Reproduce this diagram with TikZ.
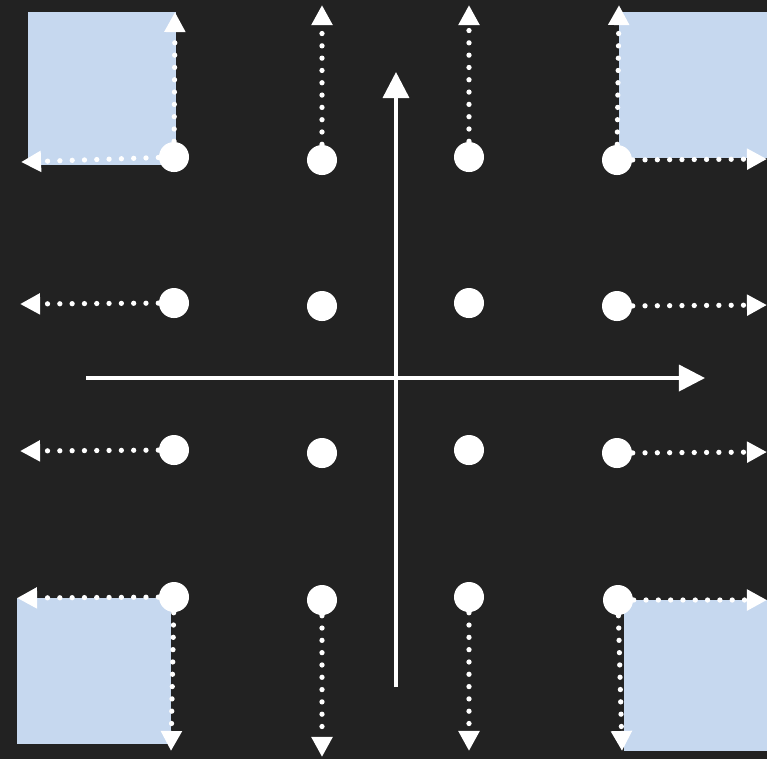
\documentclass[tikz,border=0pt]{standalone}
\usetikzlibrary{arrows.meta}
\definecolor{board}{RGB}{34,34,34}
\definecolor{paleblue}{RGB}{198,216,239}
\tikzset{
  dot/.style={circle, fill=white, inner sep=0pt, minimum size=0.3cm},
  flow/.style={white, line width=1.5pt, line cap=round, dash pattern=on 0pt off 3.5pt,
    -{Triangle[length=5.7pt,width=5.7pt]}},
  axis/.style={white, line width=1pt, -{Triangle[length=7.4pt,width=7.4pt]}}
}
\begin{document}
\begin{tikzpicture}[x=0.01cm, y=-0.01cm]
  % board
  \fill[board] (0,0) rectangle (767,759);
  \useasboundingbox (0,0) rectangle (767,759);
  % corner squares
  \fill[paleblue] (28,12) rectangle (176,165);
  \fill[paleblue] (619,12) rectangle (767,158);
  \fill[paleblue] (17,598) rectangle (171,744);
  \fill[paleblue] (624,600) rectangle (767,751);
  % axes
  \coordinate (xl) at (86,378);
  \coordinate (xr) at (705,378);
  \coordinate (yb) at (396,687);
  \coordinate (yt) at (396,72);
  \draw[axis] (xl) -- (xr);
  \draw[axis] (yb) -- (yt);
  % dots, row by row
  \node[dot] (a1) at (174,157) {};
  \node[dot] (a2) at (322,160) {};
  \node[dot] (a3) at (469,157) {};
  \node[dot] (a4) at (617,160) {};
  \node[dot] (b1) at (174,303) {};
  \node[dot] (b2) at (322,306) {};
  \node[dot] (b3) at (469,303) {};
  \node[dot] (b4) at (617,306) {};
  \node[dot] (c1) at (174,450) {};
  \node[dot] (c2) at (322,453) {};
  \node[dot] (c3) at (469,450) {};
  \node[dot] (c4) at (617,453) {};
  \node[dot] (d1) at (174,597) {};
  \node[dot] (d2) at (322,600) {};
  \node[dot] (d3) at (469,597) {};
  \node[dot] (d4) at (618,600) {};
  % free ends of the dotted arrows
  \coordinate (a1n) at (175,12);
  \coordinate (a1w) at (21,162);
  \coordinate (a2n) at (322,5);
  \coordinate (a3n) at (469,5);
  \coordinate (a4n) at (619,5);
  \coordinate (a4e) at (767,159);
  \coordinate (b1w) at (20,304);
  \coordinate (b4e) at (767,305);
  \coordinate (c1w) at (20,451);
  \coordinate (c4e) at (767,452);
  \coordinate (d1w) at (17,598);
  \coordinate (d1s) at (171,751);
  \coordinate (d2s) at (322,757);
  \coordinate (d3s) at (469,751);
  \coordinate (d4e) at (767,600);
  \coordinate (d4s) at (622,751);
  % dotted arrows
  \draw[flow] (a1) -- (a1n);
  \draw[flow] (a1) -- (a1w);
  \draw[flow] (a2) -- (a2n);
  \draw[flow] (a3) -- (a3n);
  \draw[flow] (a4) -- (a4n);
  \draw[flow] (a4) -- (a4e);
  \draw[flow] (b1) -- (b1w);
  \draw[flow] (b4) -- (b4e);
  \draw[flow] (c1) -- (c1w);
  \draw[flow] (c4) -- (c4e);
  \draw[flow] (d1) -- (d1w);
  \draw[flow] (d1) -- (d1s);
  \draw[flow] (d2) -- (d2s);
  \draw[flow] (d3) -- (d3s);
  \draw[flow] (d4) -- (d4e);
  \draw[flow] (d4) -- (d4s);
\end{tikzpicture}
\end{document}
